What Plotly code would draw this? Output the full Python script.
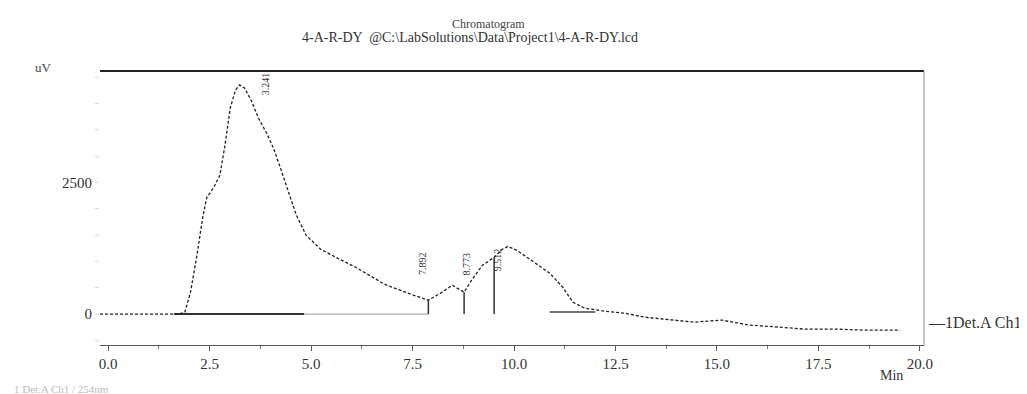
import plotly.graph_objects as go

# Chromatogram trace (time in min, signal in uV)
time_min = [-0.2, 1.74, 1.89, 2.03, 2.18, 2.33, 2.43, 2.60, 2.75, 2.87, 3.01, 3.14, 3.24, 3.36,
            3.53, 3.70, 3.90, 4.07, 4.26, 4.44, 4.63, 4.88, 5.24, 5.61, 6.10, 6.81, 7.45, 7.89,
            8.19, 8.48, 8.77, 8.97, 9.22, 9.51, 9.71, 9.85, 10.07, 10.39, 10.88, 11.20, 11.45,
            11.74, 12.23, 12.72, 13.21, 13.70, 14.44, 15.12, 15.78, 16.52, 17.13, 17.87, 18.60, 19.51]
signal_uv = [0, 0, 38, 417, 1080, 1837, 2216, 2405, 2633, 3163, 3921, 4262, 4356, 4299,
             4053, 3731, 3447, 3163, 2746, 2349, 1894, 1496, 1231, 1080, 890, 568, 379, 265,
             398, 549, 417, 663, 928, 1080, 1231, 1288, 1212, 1042, 777, 511, 227,
             114, 57, 19, -57, -95, -152, -114, -208, -246, -284, -284, -303, -303]

# Peak retention times, drop-line heights and labels
peak_times = [7.89, 8.77, 9.51]
peak_heights = [265, 417, 1080]
label_times = [3.90, 7.75, 8.82, 9.58]
label_values = [4375, 966, 947, 1042]
label_texts = ["3.241", "7.892", "8.773", "9.512"]

# Integration baselines
base1_t = [1.62, 4.83]
base1_v = [0, 0]
base2_t = [4.83, 7.89]
base2_v = [0, 0]
base3_t = [10.88, 12.0]
base3_v = [38, 38]

x_ticks = [0.0, 2.5, 5.0, 7.5, 10.0, 12.5, 15.0, 17.5, 20.0]
x_tick_text = ["0.0", "2.5", "5.0", "7.5", "10.0", "12.5", "15.0", "17.5", "20.0"]
y_ticks = [0, 2500]
y_tick_text = ["0", "2500"]

FONT = "Liberation Serif"
L, R, T, B = 92, 111, 63, 57
W, H = 1027, 394
PW, PH = W - L - R, H - T - B


def px(xp):
    return (xp - L) / PW


def py(yp):
    return (H - B - yp) / PH


fig = go.Figure()

fig.add_trace(go.Scatter(x=base1_t, y=base1_v, mode="lines",
                         line=dict(color="#333333", width=2), hoverinfo="skip"))
fig.add_trace(go.Scatter(x=base2_t, y=base2_v, mode="lines",
                         line=dict(color="#9a9a9a", width=1), hoverinfo="skip"))
fig.add_trace(go.Scatter(x=base3_t, y=base3_v, mode="lines",
                         line=dict(color="#444444", width=1.5), hoverinfo="skip"))

for t, h in zip(peak_times, peak_heights):
    fig.add_trace(go.Scatter(x=[t, t], y=[0, h], mode="lines",
                             line=dict(color="#333333", width=1.5), hoverinfo="skip"))

fig.add_trace(go.Scatter(x=time_min, y=signal_uv, mode="lines",
                         line=dict(color="#222222", width=1.3, dash="3px,2px"),
                         hoverinfo="skip"))

for t, v, s in zip(label_times, label_values, label_texts):
    fig.add_annotation(x=t, y=v, xref="x", yref="y", text=s, textangle=-90,
                       showarrow=False, font=dict(family=FONT, size=10, color="#333333"))

# frame lines
fig.add_shape(type="line", xref="paper", yref="paper", x0=0, x1=1, y0=1, y1=1,
              line=dict(color="#222222", width=2))
fig.add_shape(type="line", xref="paper", yref="paper", x0=1, x1=1, y0=0, y1=1,
              line=dict(color="#888888", width=1))

# texts
fig.add_annotation(x=px(480), y=py(7), xref="paper", yref="paper", text="Chromatogram",
                   showarrow=False, font=dict(family=FONT, size=12, color="#444444"))
fig.add_annotation(x=px(462), y=py(20), xref="paper", yref="paper",
                   text="4-A-R-DY  @C:\\LabSolutions\\Data\\Project1\\4-A-R-DY.lcd",
                   showarrow=False, font=dict(family=FONT, size=14, color="#333333"))
fig.add_annotation(x=px(25), y=py(50), xref="paper", yref="paper", text="uV",
                   showarrow=False, font=dict(family=FONT, size=13, color="#444444"))
fig.add_annotation(x=px(897), y=py(377), xref="paper", yref="paper", text="Min",
                   showarrow=False, font=dict(family=FONT, size=14, color="#333333"))
fig.add_annotation(x=px(918), y=py(325), xref="paper", yref="paper", xanchor="left",
                   text="—1Det.A Ch1", showarrow=False,
                   font=dict(family=FONT, size=16, color="#333333"))
fig.add_annotation(x=px(4), y=py(389), xref="paper", yref="paper", xanchor="left",
                   text="1 Det.A Ch1 / 254nm", showarrow=False,
                   font=dict(family=FONT, size=11, color="#bbbbbb"))

fig.update_layout(
    width=W, height=H,
    margin=dict(l=L, r=R, t=T, b=B, autoexpand=False),
    paper_bgcolor="white", plot_bgcolor="white",
    showlegend=False,
    font=dict(family=FONT, size=15, color="#333333"),
    xaxis=dict(range=[-0.2, 20.1], tickvals=x_ticks, ticktext=x_tick_text,
               showgrid=False, zeroline=False, showline=True, linecolor="#555555",
               linewidth=1, ticks="outside", ticklen=5, tickcolor="#555555",
               minor=dict(dtick=1.25, ticks="outside", ticklen=3, tickcolor="#777777"),
               tickfont=dict(family=FONT, size=15, color="#333333")),
    yaxis=dict(range=[-587, 4621], tickvals=y_ticks, ticktext=y_tick_text,
               showgrid=False, zeroline=False, showline=False,
               ticks="outside", ticklen=4, tickcolor="#dddddd",
               minor=dict(dtick=500, tick0=0, ticks="outside", ticklen=4, tickcolor="#dddddd"),
               tickfont=dict(family=FONT, size=15, color="#333333")),
)

fig.write_html("out.html")
